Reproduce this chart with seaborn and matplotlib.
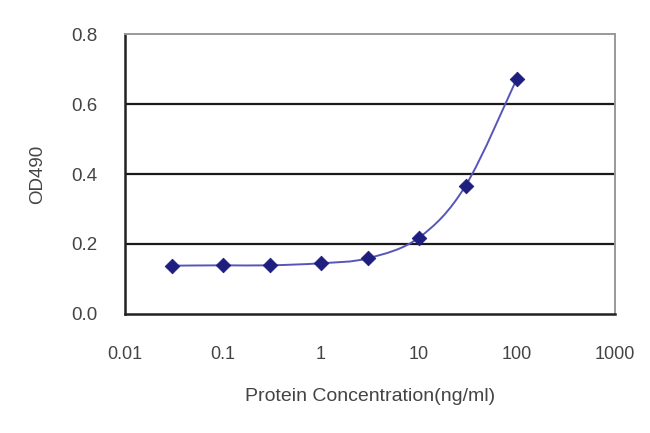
import numpy as np
import pandas as pd
import matplotlib
matplotlib.use("Agg")
import matplotlib.pyplot as plt
from matplotlib.path import Path
from matplotlib.patches import PathPatch
import seaborn as sns

# data
conc = [0.03, 0.1, 0.3, 1, 3, 10, 30, 100]
od490 = [0.138, 0.139, 0.139, 0.145, 0.159, 0.218, 0.367, 0.673]
x_ticks = [0.01, 0.1, 1, 10, 100, 1000]
x_ticklabels = ["0.01", "0.1", "1", "10", "100", "1000"]
y_ticks = [0.0, 0.2, 0.4, 0.6, 0.8]

sns.set_style("white")
plt.rcParams['font.family'] = ['Liberation Sans', 'DejaVu Sans']

df = pd.DataFrame({"conc": conc, "od": od490})

fig = plt.figure(figsize=(6.5, 4.33), dpi=100)
ax = fig.add_axes([0.192, 0.275, 0.754, 0.646])
ax.set_xscale("log")
ax.set_xlim(0.01, 1000)
ax.set_ylim(0, 0.8)

for yv in y_ticks[1:-1]:
    ax.axhline(yv, color="#1a1a1a", lw=1.6, zorder=1)

# smoothed connecting line (Catmull-Rom as cubic Bezier, built in log-x space)
lx = np.log10(df["conc"].values)
ly = df["od"].values
verts = [(lx[0], ly[0])]
codes = [Path.MOVETO]
n = len(lx)
for i in range(n - 1):
    p0 = (lx[max(i - 1, 0)], ly[max(i - 1, 0)])
    p1 = (lx[i], ly[i])
    p2 = (lx[i + 1], ly[i + 1])
    p3 = (lx[min(i + 2, n - 1)], ly[min(i + 2, n - 1)])
    c1 = (p1[0] + (p2[0] - p0[0]) / 6, p1[1] + (p2[1] - p0[1]) / 6)
    c2 = (p2[0] - (p3[0] - p1[0]) / 6, p2[1] - (p3[1] - p1[1]) / 6)
    verts += [c1, c2, p2]
    codes += [Path.CURVE4] * 3
verts = [(10 ** vx, vy) for vx, vy in verts]
ax.add_patch(PathPatch(Path(verts, codes), facecolor="none",
                       edgecolor="#5656b8", lw=1.4, zorder=2))

sns.scatterplot(data=df, x="conc", y="od", marker="D", s=55,
                color="#1e1e7e", edgecolor="#1e1e7e", ax=ax, zorder=3)

ax.set_xticks(x_ticks)
ax.set_xticklabels(x_ticklabels)
ax.minorticks_off()
ax.set_yticks(y_ticks)
ax.set_yticklabels([f"{v:.1f}" for v in y_ticks])
ax.tick_params(axis="x", direction="in", length=3, width=1.2, pad=23,
               labelsize=13, colors="#1a1a1a", labelcolor="#444444")
ax.tick_params(axis="y", direction="out", length=2, width=1.2, pad=18,
               labelsize=13.5, colors="#1a1a1a", labelcolor="#444444")

for side in ["left", "bottom"]:
    ax.spines[side].set_color("#222222")
    ax.spines[side].set_linewidth(1.8)
for side in ["top", "right"]:
    ax.spines[side].set_color("#999999")
    ax.spines[side].set_linewidth(1.4)

ax.set_xlabel("Protein Concentration(ng/ml)", fontsize=14, color="#444444", labelpad=18)
ax.set_ylabel("OD490", fontsize=13.5, color="#444444", labelpad=18)

fig.savefig("out.png", dpi=100)
